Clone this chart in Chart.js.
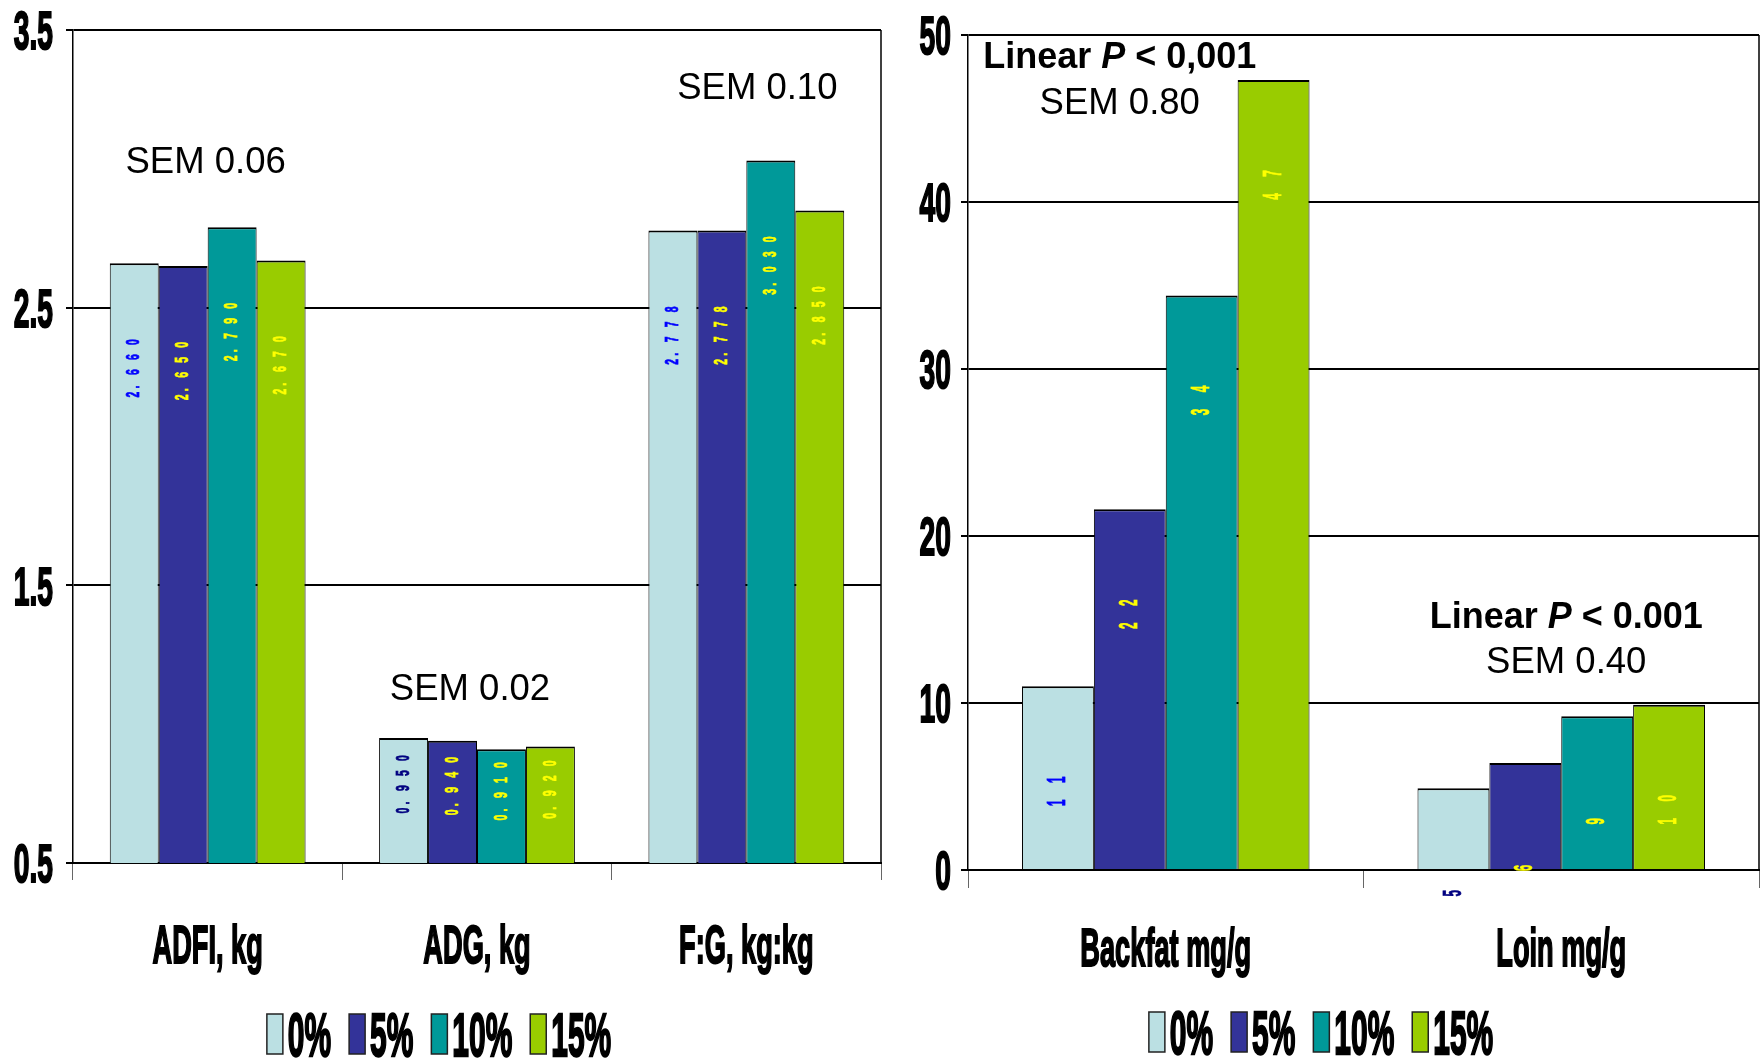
<!DOCTYPE html>
<html>
<head>
<meta charset="utf-8">
<title>Growth performance and tissue content</title>
<script src="https://cdn.jsdelivr.net/npm/chart.js@4.4.0/dist/chart.umd.min.js"></script>
<style>
  html, body { margin: 0; padding: 0; background: #ffffff; }
  #wrap { position: relative; width: 1764px; height: 1059px; overflow: hidden; }
  #perfChart { position: absolute; left: 0; top: 0; }
  #tissueChart { position: absolute; left: 890px; top: 0; }
</style>
</head>
<body>
<div id="wrap">
  <canvas id="perfChart" width="890" height="1059"></canvas>
  <canvas id="tissueChart" width="874" height="1059"></canvas>
</div>
<script>
// ---- data -------------------------------------------------------------
const seriesLabels = ['0%', '5%', '10%', '15%'];
const seriesColors = ['#BBE0E3', '#333399', '#009999', '#99CC00'];

// growth performance
const perfCategories = ['ADFI, kg', 'ADG, kg', 'F:G, kg:kg'];
const perf0  = [2.660, 0.950, 2.778];
const perf5  = [2.650, 0.940, 2.778];
const perf10 = [2.790, 0.910, 3.030];
const perf15 = [2.670, 0.920, 2.850];
const perfTicks = [0.5, 1.5, 2.5, 3.5];
const perfLabelColors0 = ['#0000FF', '#000080', '#0000FF'];

// tissue content
const tissueCategories = ['Backfat mg/g', 'Loin mg/g'];
const tissue0  = [11.0, 4.9];
const tissue5  = [21.6, 6.4];
const tissue10 = [34.4, 9.2];
const tissue15 = [47.3, 9.9];
const tissueTicks = [0, 10, 20, 30, 40, 50];
const tissueLabelColors0 = ['#0000FF', '#000080'];

// ---- drawing helpers --------------------------------------------------
const HEAVY_FONT = 'bold 34px "Liberation Sans", Arial, sans-serif';
const HEAVY_CAP = 34 * 0.716;

// condensed, vertically stretched heavy text centred on (x, cy)
function heavyText(ctx, text, x, cy, sx, sy, align) {
  ctx.save();
  ctx.translate(x, cy);
  ctx.scale(sx, sy);
  ctx.font = HEAVY_FONT;
  ctx.textAlign = align;
  ctx.textBaseline = 'alphabetic';
  ctx.fillStyle = '#000';
  ctx.strokeStyle = '#000';
  ctx.lineWidth = 1.3;
  ctx.fillText(text, 0, HEAVY_CAP / 2);
  ctx.strokeText(text, 0, HEAVY_CAP / 2);
  ctx.restore();
}

function heavyWidth(ctx, text, sx) {
  ctx.save();
  ctx.font = HEAVY_FONT;
  const w = ctx.measureText(text).width * sx;
  ctx.restore();
  return w;
}

// rotated, spaced value label reading bottom to top
function valueLabel(ctx, text, cx, cy, font, squeeze, adv, color) {
  const steps = [...text].map(ch => (ch === '.' ? adv * 0.5 : adv));
  const total = steps.slice(1).reduce((s, v) => s + v, 0);
  ctx.save();
  ctx.translate(cx, cy);
  ctx.rotate(-Math.PI / 2);
  ctx.font = font;
  ctx.fillStyle = color;
  ctx.strokeStyle = color;
  ctx.lineWidth = 0.8;
  ctx.textAlign = 'center';
  ctx.textBaseline = 'middle';
  let pos = -total / 2;
  [...text].forEach((ch, k) => {
    if (k > 0) pos += steps[k];
    ctx.save();
    ctx.translate(pos, 0);
    ctx.scale(squeeze, 1);
    ctx.fillText(ch, 0, 0);
    ctx.strokeText(ch, 0, 0);
    ctx.restore();
  });
  ctx.restore();
}

function noteText(ctx, parts, cx, cy) {
  ctx.save();
  ctx.textBaseline = 'middle';
  ctx.textAlign = 'left';
  ctx.fillStyle = '#000';
  let total = 0;
  parts.forEach(p => { ctx.font = p[1]; total += ctx.measureText(p[0]).width; });
  let x = cx - total / 2;
  parts.forEach(p => {
    ctx.font = p[1];
    ctx.fillText(p[0], x, cy);
    x += ctx.measureText(p[0]).width;
  });
  ctx.restore();
}

function makeDecor(cfg) {
  return {
    id: 'decor',
    afterDraw(chart) {
      const ctx = chart.ctx;
      const a = chart.chartArea;
      const xs = chart.scales.x;
      const ys = chart.scales.y;

      // right edge of the plot frame
      ctx.save();
      ctx.strokeStyle = '#000';
      ctx.lineWidth = 1.5;
      ctx.beginPath();
      ctx.moveTo(a.right, a.top);
      ctx.lineTo(a.right, a.bottom);
      ctx.stroke();
      ctx.restore();

      // y tick labels
      ys.ticks.forEach(t => {
        heavyText(ctx, t.value.toFixed(cfg.yDecimals), a.left - cfg.yGap,
                  ys.getPixelForValue(t.value), 0.83, 1.6, 'right');
      });

      // category labels
      chart.data.labels.forEach((lab, i) => {
        heavyText(ctx, lab, xs.getPixelForValue(i), a.bottom + cfg.catOffset, 0.8, 1.56, 'center');
      });

      // legend
      const lsx = 0.88, lsy = 1.8, boxW = 16, boxH = 40, gapIn = 5, gapOut = 18;
      const items = chart.data.datasets.map(d => ({
        text: d.label, color: d.backgroundColor, w: heavyWidth(ctx, d.label, lsx)
      }));
      const legendW = items.reduce((s, it) => s + boxW + gapIn + it.w, 0) + gapOut * (items.length - 1);
      let lx = chart.width / 2 + cfg.legendShift - legendW / 2;
      const ly = a.bottom + cfg.legendOffset;
      items.forEach(it => {
        ctx.save();
        ctx.fillStyle = it.color;
        ctx.fillRect(lx, ly - boxH / 2, boxW, boxH);
        ctx.strokeStyle = '#222';
        ctx.lineWidth = 1.5;
        ctx.strokeRect(lx, ly - boxH / 2, boxW, boxH);
        ctx.restore();
        lx += boxW + gapIn;
        heavyText(ctx, it.text, lx, ly, lsx, lsy, 'left');
        lx += it.w + gapOut;
      });

      // value labels inside the bars (visible height only)
      chart.data.datasets.forEach((ds, di) => {
        const meta = chart.getDatasetMeta(di);
        meta.data.forEach((bar, j) => {
          const h = Math.min(bar.base, a.bottom) - bar.y;
          const cy = bar.y + Math.min(cfg.labelDrop, cfg.labelFrac * h);
          const color = Array.isArray(ds.labelColor) ? ds.labelColor[j] : ds.labelColor;
          valueLabel(ctx, ds.data[j].toFixed(cfg.labelDecimals), bar.x, cy,
                     cfg.labelFont, cfg.labelSqueeze, cfg.labelAdvance, color);
        });
      });

      // annotations
      cfg.notes.forEach(n => {
        n.lines.forEach(line => {
          noteText(ctx, line.parts, xs.getPixelForValue(n.cat) + n.dx, ys.getPixelForValue(line.val));
        });
      });
    }
  };
}

function makeDatasets(arrays, firstLabelColors) {
  return arrays.map((d, i) => ({
    label: seriesLabels[i],
    data: d,
    backgroundColor: seriesColors[i],
    borderColor: '#000000',
    borderWidth: { top: 2, left: 1, right: 1, bottom: 0 },
    barPercentage: 1.0,
    categoryPercentage: 0.727,
    labelColor: i === 0 ? firstLabelColors : '#FFFF00'
  }));
}

function makeScales(min, max, ticks, yWidth, xHeight, catTick) {
  return {
    x: {
      type: 'category',
      offset: true,
      grid: { display: true, offset: true, drawOnChartArea: false, drawTicks: true,
              tickLength: catTick, color: '#666666', lineWidth: 1 },
      border: { display: true, color: '#000000', width: 2 },
      ticks: { display: false },
      afterFit(s) { s.height = xHeight; }
    },
    y: {
      min: min, max: max,
      afterBuildTicks(s) { s.ticks = ticks.map(v => ({ value: v })); },
      grid: { color: '#000000', lineWidth: 2, drawTicks: true, tickLength: 7 },
      border: { display: true, color: '#000000', width: 1.5 },
      ticks: { display: false },
      afterFit(s) { s.width = yWidth; }
    }
  };
}

const BOLD_NOTE = 'bold 36px "Liberation Sans", Arial, sans-serif';
const ITALIC_NOTE = 'italic bold 36px "Liberation Sans", Arial, sans-serif';
const PLAIN_NOTE = '36.5px "Liberation Sans", Arial, sans-serif';

// ---- growth performance chart ------------------------------------------
new Chart(document.getElementById('perfChart'), {
  type: 'bar',
  data: {
    labels: perfCategories,
    datasets: makeDatasets([perf0, perf5, perf10, perf15], perfLabelColors0)
  },
  options: {
    responsive: false,
    animation: false,
    events: [],
    layout: { padding: { left: 0, top: 30, right: 9, bottom: 0 } },
    plugins: { legend: { display: false }, tooltip: { enabled: false } },
    scales: makeScales(0.5, 3.5, perfTicks, 73, 196, 17)
  },
  plugins: [makeDecor({
    yDecimals: 1, yGap: 20, catOffset: 81, legendOffset: 171, legendShift: -6,
    labelDecimals: 3, labelFont: 'bold 19px "Liberation Sans", Arial, sans-serif',
    labelSqueeze: 0.55, labelAdvance: 15, labelDrop: 105, labelFrac: 0.37,
    notes: [
      { cat: 0, dx: -2, lines: [{ val: 3.02, parts: [['SEM 0.06', PLAIN_NOTE]] }] },
      { cat: 1, dx: -7, lines: [{ val: 1.124, parts: [['SEM 0.02', PLAIN_NOTE]] }] },
      { cat: 2, dx: 11, lines: [{ val: 3.287, parts: [['SEM 0.10', PLAIN_NOTE]] }] }
    ]
  })]
});

// ---- tissue content chart ----------------------------------------------
new Chart(document.getElementById('tissueChart'), {
  type: 'bar',
  data: {
    labels: tissueCategories,
    datasets: makeDatasets([tissue0, tissue5, tissue10, tissue15], tissueLabelColors0)
  },
  options: {
    responsive: false,
    animation: false,
    events: [],
    layout: { padding: { left: 0, top: 35, right: 5, bottom: 0 } },
    plugins: { legend: { display: false }, tooltip: { enabled: false } },
    scales: makeScales(0, 50, tissueTicks, 78, 189, 18)
  },
  plugins: [makeDecor({
    yDecimals: 0, yGap: 17, catOffset: 77, legendOffset: 162, legendShift: -6,
    labelDecimals: 0, labelFont: 'bold 26px "Liberation Sans", Arial, sans-serif',
    labelSqueeze: 0.45, labelAdvance: 23, labelDrop: 105, labelFrac: 10,
    notes: [
      { cat: 0, dx: -46, lines: [
        { val: 48.6, parts: [['Linear ', BOLD_NOTE], ['P', ITALIC_NOTE], [' < 0,001', BOLD_NOTE]] },
        { val: 45.9, parts: [['SEM 0.80', PLAIN_NOTE]] }
      ] },
      { cat: 1, dx: 5, lines: [
        { val: 15.1, parts: [['Linear ', BOLD_NOTE], ['P', ITALIC_NOTE], [' < 0.001', BOLD_NOTE]] },
        { val: 12.4, parts: [['SEM 0.40', PLAIN_NOTE]] }
      ] }
    ]
  })]
});
</script>
</body>
</html>
